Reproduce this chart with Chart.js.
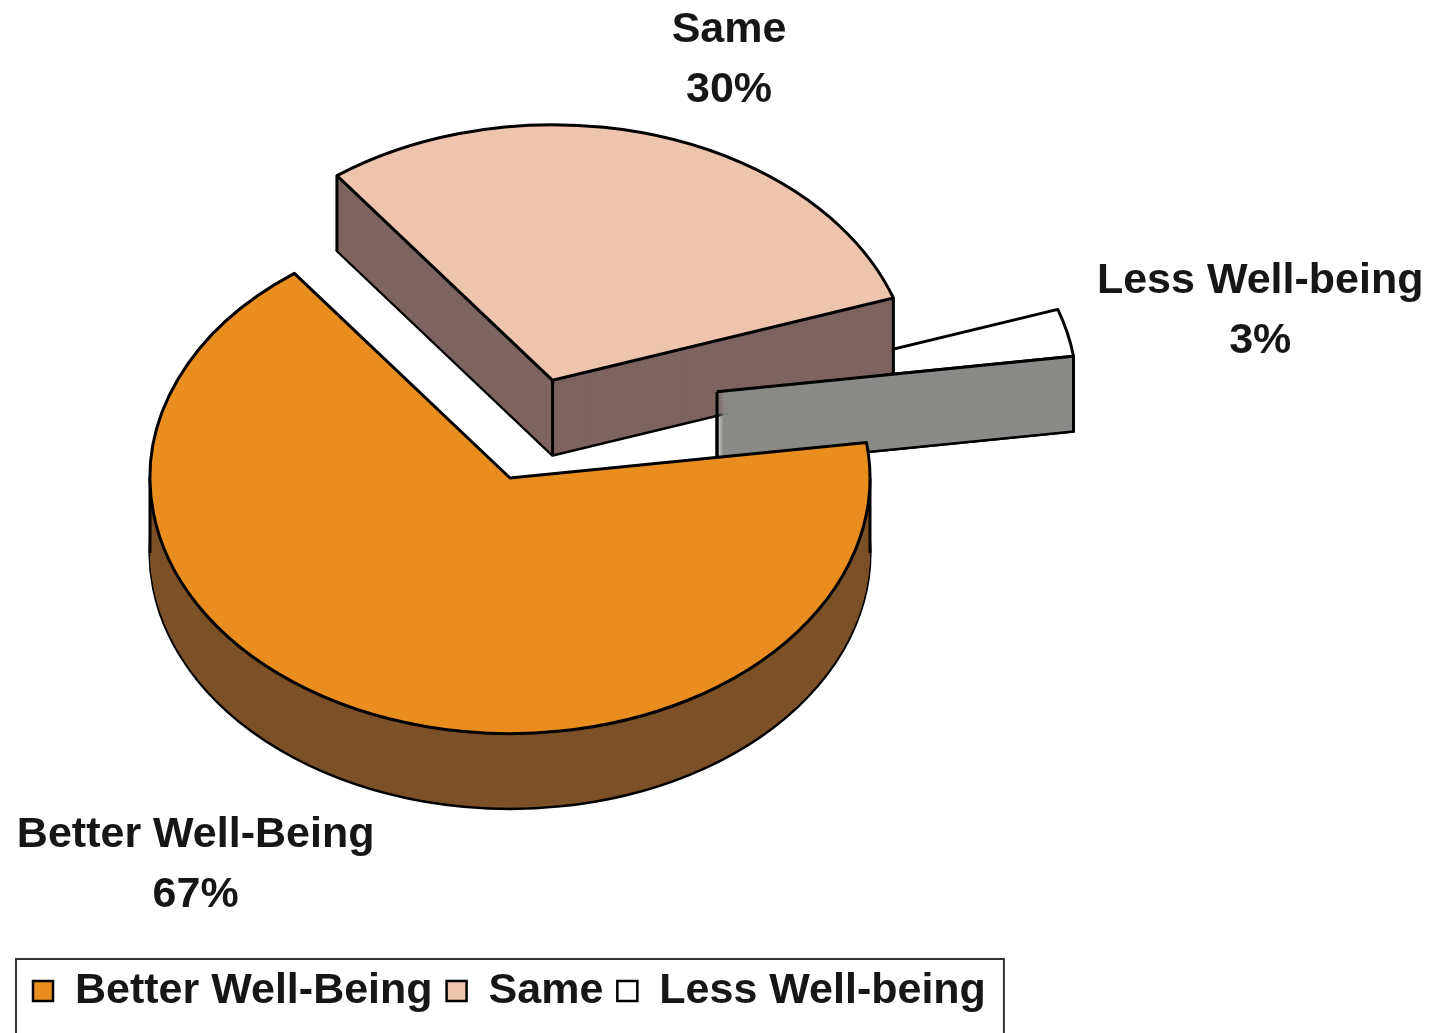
<!DOCTYPE html>
<html>
<head>
<meta charset="utf-8">
<script src="https://cdn.jsdelivr.net/npm/chart.js@4.4.1/dist/chart.umd.min.js"></script>
<style>
  html, body { margin: 0; padding: 0; background: #fff; }
</style>
</head>
<body>
<canvas id="wellbeing" width="1445" height="1033"></canvas>
<script>
var categories = ["Better Well-Being", "Same", "Less Well-being"];
var percents = [67, 30, 3];
var topColors = ["#E98E1E", "#EFC4AE", "#FFFFFF"];
var sideColors = ["#7D5128", "#7E6460", "#8A8B88"];

var FONT = "bold 43px 'Liberation Sans', Arial, sans-serif";
var DEG = Math.PI / 180;

// slice geometry in screen space: circle squashed vertically by tilt
function sliceGeom(arc, push, turn, tilt) {
  var p = arc.getProps(["x", "y", "startAngle", "endAngle", "outerRadius"], true);
  var mid = (p.startAngle + p.endAngle) / 2;
  var dir = mid + turn * DEG;
  return {
    x: p.x + Math.cos(dir) * push,
    y: p.y + Math.sin(dir) * push * tilt,
    rx: p.outerRadius,
    ry: p.outerRadius * tilt,
    a0: p.startAngle,
    a1: p.endAngle,
    mid: mid
  };
}

function tracePath(ctx, g, dy) {
  ctx.beginPath();
  ctx.moveTo(g.x, g.y + dy);
  ctx.ellipse(g.x, g.y + dy, g.rx, g.ry, 0, g.a0, g.a1);
  ctx.closePath();
}

function rimPoint(g, a) {
  return [g.x + Math.cos(a) * g.rx, g.y + Math.sin(a) * g.ry];
}

function facing(a) { return Math.sin(a) > 0; }

// side walls: bottom outline, extrusion fill, visible vertical edges
function drawWall(ctx, g, depth, color) {
  ctx.fillStyle = color;
  tracePath(ctx, g, depth);
  ctx.fill();
  ctx.stroke();
  for (var s = depth - 1; s > 0; s--) {
    tracePath(ctx, g, s);
    ctx.fill();
  }
  var left = g.a0 - Math.PI / 2, right = g.a1 + Math.PI / 2;
  var edges = [];
  if (facing(left) || facing(right)) edges.push([g.x, g.y]);
  if (facing(left) || facing(g.a0)) edges.push(rimPoint(g, g.a0));
  if (facing(right) || facing(g.a1)) edges.push(rimPoint(g, g.a1));
  [0, Math.PI, 2 * Math.PI].forEach(function (a) {
    if (a > g.a0 && a < g.a1) edges.push(rimPoint(g, a));
  });
  edges.forEach(function (pt) {
    ctx.beginPath();
    ctx.moveTo(pt[0], pt[1]);
    ctx.lineTo(pt[0], pt[1] + depth);
    ctx.stroke();
  });
}

function drawTop(ctx, g, color) {
  ctx.fillStyle = color;
  tracePath(ctx, g, 0);
  ctx.fill();
  ctx.stroke();
}

var pie3d = {
  id: "pie3d",
  beforeDatasetsDraw: function (chart, args, opts) {
    var ctx = chart.ctx;
    var arcs = chart.getDatasetMeta(0).data;
    var depth = opts.depth;
    var geo = arcs.map(function (arc, i) {
      return sliceGeom(arc, opts.explode[i], opts.turn[i], opts.tilt);
    });
    ctx.save();
    ctx.lineJoin = "round";
    ctx.strokeStyle = "#000";
    ctx.lineWidth = 3;
    // back slices first so the big slice ends up in front
    for (var i = arcs.length - 1; i >= 0; i--) {
      var g = geo[i];
      drawWall(ctx, g, depth, sideColors[i]);
      drawTop(ctx, g, topColors[i]);
      // the thin slice's front wall sits in front of its neighbour's wall
      if (i === 1) {
        var t = geo[2];
        ctx.save();
        ctx.beginPath();
        ctx.rect(0, 0, chart.width, chart.height);
        ctx.moveTo(t.x, t.y);
        ctx.ellipse(t.x, t.y, t.rx, t.ry, 0, t.a0, t.a1);
        ctx.closePath();
        ctx.clip("evenodd");
        drawWall(ctx, t, depth, sideColors[2]);
        ctx.restore();
        var end = rimPoint(t, t.a1);
        ctx.beginPath();
        ctx.moveTo(t.x, t.y);
        ctx.lineTo(end[0], end[1]);
        ctx.stroke();
      }
    }
    ctx.restore();
    return false;
  },
  afterDraw: function (chart, args, opts) {
    var ctx = chart.ctx;
    var arcs = chart.getDatasetMeta(0).data;
    ctx.save();
    ctx.font = FONT;
    ctx.fillStyle = "#161616";
    ctx.textAlign = "center";
    ctx.textBaseline = "middle";
    // slice labels: name and percent outside each slice
    arcs.forEach(function (arc, i) {
      var g = sliceGeom(arc, opts.explode[i], opts.turn[i], opts.tilt);
      var rim = rimPoint(g, g.mid);
      var lx = rim[0] + opts.labelShift[i][0];
      var ly = rim[1] + opts.labelShift[i][1];
      ctx.fillText(categories[i], lx, ly - 30);
      ctx.fillText(percents[i] + "%", lx, ly + 30);
    });

    // legend row with a frame
    var x = 33, cy = 991, box = 20;
    ctx.textAlign = "left";
    ctx.lineWidth = 2.5;
    ctx.strokeStyle = "#000";
    categories.forEach(function (name, i) {
      ctx.fillStyle = topColors[i];
      ctx.fillRect(x, cy - box / 2, box, box);
      ctx.strokeRect(x, cy - box / 2, box, box);
      x += box + 22;
      ctx.fillStyle = "#161616";
      ctx.fillText(name, x, cy);
      x += ctx.measureText(name).width + 14;
    });
    ctx.lineWidth = 2;
    ctx.strokeStyle = "#333";
    ctx.strokeRect(16, 959, x + 4 - 16, 90);
    ctx.restore();
  }
};

new Chart("wellbeing", {
  type: "pie",
  data: {
    labels: categories,
    datasets: [{
      data: percents,
      backgroundColor: topColors,
      borderColor: "#000",
      borderWidth: 3
    }]
  },
  options: {
    responsive: false,
    animation: false,
    rotation: 82,
    radius: 360,
    layout: { padding: { left: 0, right: 425, top: 0, bottom: 77 } },
    plugins: {
      legend: { display: false },
      tooltip: { enabled: false },
      pie3d: {
        tilt: 0.71,
        depth: 75,
        explode: [0, 144, 240],
        turn: [0, 0, -17],
        labelShift: [[-176, 151], [70, -76], [193, -21]]
      }
    }
  },
  plugins: [pie3d]
});
</script>
</body>
</html>
